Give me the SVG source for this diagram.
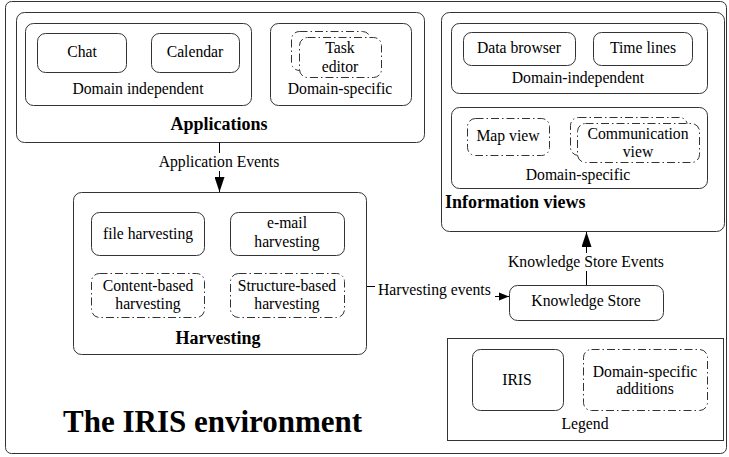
<svg xmlns="http://www.w3.org/2000/svg" width="729" height="457" viewBox="0 0 729 457">
<defs>
<style>
.box{fill:#fff;stroke:#333;stroke-width:1}
.dd{fill:#fff;stroke:#333;stroke-width:1;stroke-dasharray:8,3,1.5,3}
.t{font-family:"Liberation Serif","Times New Roman",serif;font-size:15.7px;fill:#000;text-anchor:middle}
.b{font-family:"Liberation Serif","Times New Roman",serif;font-size:18px;font-weight:bold;fill:#000;text-anchor:middle}
.c{fill:none;stroke:#000;stroke-width:1}
.lbg{fill:#fff;stroke:none}
</style>
<marker id="ah" viewBox="0 0 10 10" refX="10" refY="5" markerWidth="10" markerHeight="10" markerUnits="userSpaceOnUse" orient="auto">
<path d="M0,1 L10,5 L0,9 z" fill="#000"/>
</marker>
<marker id="ahv" viewBox="0 0 12 8" refX="12" refY="4" markerWidth="16" markerHeight="10" markerUnits="userSpaceOnUse" orient="auto">
<path d="M0,0 L12,4 L0,8 z" fill="#000"/>
</marker>
</defs>
<rect width="729" height="457" fill="#fff"/>
<g id="environment">
<rect class="box" x="5.5" y="1.5" width="721" height="452" rx="6"/>
<text x="63" y="432" style="font-family:'Liberation Serif','Times New Roman',serif;font-size:31px;font-weight:bold">The IRIS environment</text>
</g>
<g id="applications">
<rect class="box" x="16.5" y="12.5" width="408" height="130" rx="8"/>
<text class="b" x="219" y="130">Applications</text>
<g id="app-domain-independent">
<rect class="box" x="25.5" y="23.5" width="226" height="82" rx="8"/>
<text class="t" x="138" y="94">Domain independent</text>
</g>
<g id="chat">
<rect class="box" x="37.5" y="33.5" width="89" height="39" rx="8"/>
<text class="t" x="82" y="57">Chat</text>
</g>
<g id="calendar">
<rect class="box" x="151.5" y="33.5" width="88" height="39" rx="8"/>
<text class="t" x="195" y="57">Calendar</text>
</g>
<g id="app-domain-specific">
<rect class="box" x="270.5" y="23.5" width="141" height="82" rx="8"/>
<text class="t" x="340" y="94">Domain-specific</text>
</g>
<g id="task-editor">
<rect class="dd" x="291.5" y="31.5" width="79" height="39" rx="8"/>
<rect class="dd" x="299.5" y="37.5" width="82" height="40" rx="8"/>
<text class="t" x="340" y="53">Task</text>
<text class="t" x="340" y="72">editor</text>
</g>
</g>
<g id="harvesting">
<rect class="box" x="73.5" y="192.5" width="293" height="162" rx="8"/>
<text class="b" x="218" y="344">Harvesting</text>
<g id="file-harvesting">
<rect class="box" x="91.5" y="212.5" width="113" height="43" rx="8"/>
<text class="t" x="148" y="239">file harvesting</text>
</g>
<g id="email-harvesting">
<rect class="box" x="230.5" y="212.5" width="114" height="43" rx="8"/>
<text class="t" x="287" y="228">e-mail</text>
<text class="t" x="287" y="247">harvesting</text>
</g>
<g id="content-harvesting">
<rect class="dd" x="91.5" y="273.5" width="113" height="44" rx="8"/>
<text class="t" x="148" y="291">Content-based</text>
<text class="t" x="148" y="309">harvesting</text>
</g>
<g id="structure-harvesting">
<rect class="dd" x="230.5" y="273.5" width="114" height="44" rx="8"/>
<text class="t" x="287" y="291">Structure-based</text>
<text class="t" x="287" y="309">harvesting</text>
</g>
</g>
<g id="information-views">
<rect class="box" x="441.5" y="12.5" width="283" height="219" rx="8"/>
<text class="b" x="445" y="208" style="text-anchor:start">Information views</text>
<g id="iv-domain-independent">
<rect class="box" x="451.5" y="23.5" width="256" height="70" rx="8"/>
<text class="t" x="578" y="83">Domain-independent</text>
</g>
<g id="data-browser">
<rect class="box" x="463.5" y="32.5" width="112" height="33" rx="8"/>
<text class="t" x="519" y="53">Data browser</text>
</g>
<g id="time-lines">
<rect class="box" x="593.5" y="32.5" width="99" height="33" rx="8"/>
<text class="t" x="643" y="53">Time lines</text>
</g>
<g id="iv-domain-specific">
<rect class="box" x="451.5" y="107.5" width="256" height="81" rx="8"/>
<text class="t" x="578" y="180">Domain-specific</text>
</g>
<g id="map-view">
<rect class="dd" x="467.5" y="118.5" width="82" height="37" rx="8"/>
<text class="t" x="508" y="141">Map view</text>
</g>
<g id="communication-view">
<rect class="dd" x="570.5" y="117.5" width="117" height="38" rx="8"/>
<rect class="dd" x="577.5" y="123.5" width="122" height="39" rx="8"/>
<text class="t" x="638" y="139">Communication</text>
<text class="t" x="638" y="157">view</text>
</g>
</g>
<g id="knowledge-store">
<rect class="box" x="509.5" y="285.5" width="154" height="35" rx="8"/>
<text class="t" x="586" y="306">Knowledge Store</text>
</g>
<g id="legend">
<rect class="box" x="447.5" y="338.5" width="276" height="102"/>
<text class="t" x="585" y="429">Legend</text>
<g id="legend-iris">
<rect class="box" x="472.5" y="349.5" width="91" height="61" rx="8"/>
<text class="t" x="517" y="385">IRIS</text>
</g>
<g id="legend-domain">
<rect class="dd" x="583.5" y="349.5" width="124" height="61" rx="8"/>
<text class="t" x="645" y="377">Domain-specific</text>
<text class="t" x="645" y="394">additions</text>
</g>
</g>
<g id="connectors">
<path class="c" d="M219.5,142.5 V192" marker-end="url(#ahv)"/>
<rect class="lbg" x="157" y="153" width="124" height="18"/>
<text class="t" x="219" y="167">Application Events</text>
<path class="c" d="M367,286.5 H430 V296.5 H509" marker-end="url(#ah)"/>
<rect class="lbg" x="375" y="280" width="120" height="22"/>
<text class="t" x="378" y="295" style="text-anchor:start">Harvesting events</text>
<path class="c" d="M586.5,285 V232" marker-end="url(#ahv)"/>
<rect class="lbg" x="506" y="253" width="161" height="18"/>
<text class="t" x="586" y="267">Knowledge Store Events</text>
</g>
</svg>
